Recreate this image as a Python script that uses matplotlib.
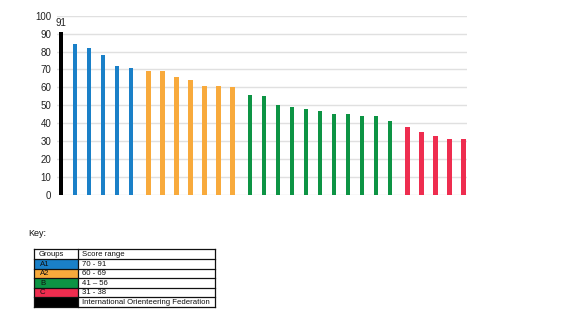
import matplotlib
matplotlib.use("Agg")
import matplotlib.pyplot as plt
from matplotlib.patches import Rectangle

plt.rcParams['font.family'] = ['Liberation Sans', 'DejaVu Sans']

# Scores per group, in descending order
iof_score = [91]
a1_scores = [84, 82, 78, 72, 71]
a2_scores = [69, 69, 66, 64, 61, 61, 60]
b_scores = [56, 55, 50, 49, 48, 47, 45, 45, 44, 44, 41]
c_scores = [38, 35, 33, 31, 31]

# Legend table content
group_names = ["A1", "A2", "B", "C", ""]
score_ranges = ["70 - 91", "60 - 69", "41 \u2013 56", "31 - 38",
                "International Orienteering Federation"]

col_black = "#000000"
col_blue = "#1a80c8"
col_orange = "#f8aa3c"
col_green = "#0d9444"
col_red = "#ee2d4f"

groups = [
    (iof_score, col_black, 0.0),
    (a1_scores, col_blue, 0.0),
    (a2_scores, col_orange, 0.25),
    (b_scores, col_green, 0.25),
    (c_scores, col_red, 0.25),
]

W, H = 570, 325
fig = plt.figure(figsize=(W / 100, H / 100), dpi=100)

ax = fig.add_axes([57 / W, 1 - 195 / H, (467 - 57) / W, (195 - 15.7) / H])
pos = 0.0
first = True
for vals, col, gap in groups:
    if not first:
        pos += 1 + gap
    xs = []
    for i, v in enumerate(vals):
        if i > 0:
            pos += 1
        xs.append(pos)
    first = False
    ax.bar(xs, vals, width=0.3, color=col, zorder=3)

ax.annotate(str(iof_score[0]), (0, iof_score[0]), xytext=(0, 3),
            textcoords="offset points", ha="center", va="bottom",
            fontsize=7, color="#222222")

ax.set_ylim(0, 100)
ax.set_xlim(-0.29, 29.0)
ax.set_yticks(range(0, 101, 10))
ax.set_xticks([])
ax.yaxis.grid(True, color="#e0e0e0", linewidth=1.0, zorder=0)
for s in ax.spines.values():
    s.set_visible(False)
ax.tick_params(axis="y", length=0, pad=4, labelsize=7, labelcolor="#222222")

# Key table drawn in pixel coordinates
tab = fig.add_axes([0, 0, 1, 1])
tab.set_xlim(0, W)
tab.set_ylim(H, 0)
tab.axis("off")

tab.text(28, 234, "Key:", fontsize=6.5, va="center", ha="left", color="#111111")

x0, x1, x2 = 34.3, 77.7, 215.0
row_y = [249.3, 258.9, 268.5, 278.1, 287.7, 297.2, 306.7]
row_cols = [col_blue, col_orange, col_green, col_red, col_black]

for i, c in enumerate(row_cols):
    tab.add_patch(Rectangle((x0, row_y[i + 1]), x1 - x0,
                            row_y[i + 2] - row_y[i + 1],
                            facecolor=c, edgecolor="none"))

for y in row_y:
    tab.plot([x0, x2], [y, y], color="#111111", lw=0.9)
for x in (x0, x1, x2):
    tab.plot([x, x], [row_y[0], row_y[-1]], color="#111111", lw=0.9)

def mid(i):
    return (row_y[i] + row_y[i + 1]) / 2 + 0.3

fs = 5.6
tab.text(39, mid(0), "Groups", fontsize=fs, va="center", ha="left", color="#111111")
tab.text(82.5, mid(0), "Score range", fontsize=fs, va="center", ha="left", color="#111111")
for i, (g, r) in enumerate(zip(group_names, score_ranges)):
    tab.text(40, mid(i + 1), g, fontsize=fs, va="center", ha="left", color="#111111")
    tab.text(82.5, mid(i + 1), r, fontsize=fs, va="center", ha="left", color="#111111")

fig.savefig("out.png", dpi=100)
